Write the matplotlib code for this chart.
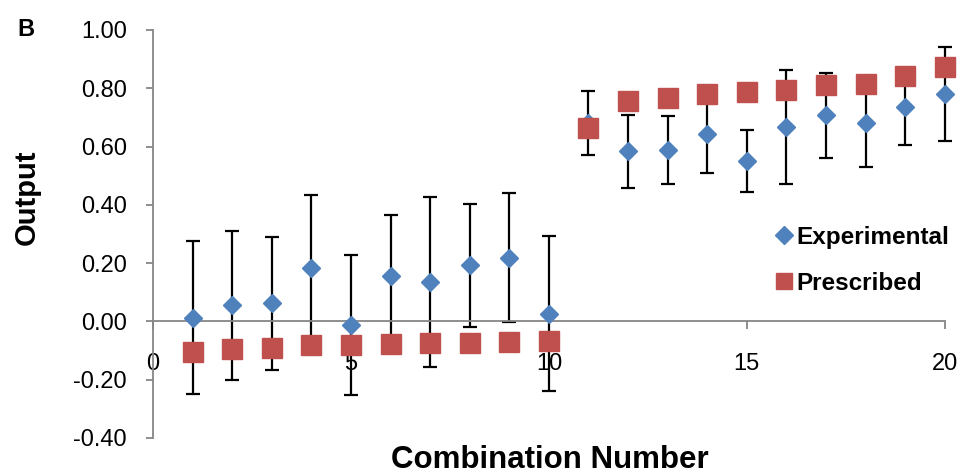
import matplotlib.pyplot as plt
from matplotlib.lines import Line2D
import numpy as np

plt.rcParams['font.family'] = ['Liberation Sans', 'DejaVu Sans']

combo = np.arange(1, 21)
experimental = [0.013, 0.055, 0.062, 0.184, -0.011, 0.155, 0.136, 0.192, 0.219, 0.027,
                0.680, 0.583, 0.589, 0.644, 0.549, 0.667, 0.707, 0.680, 0.734, 0.780]
exp_err = [0.262, 0.255, 0.228, 0.250, 0.240, 0.210, 0.292, 0.212, 0.220, 0.265,
           0.110, 0.125, 0.117, 0.136, 0.106, 0.195, 0.145, 0.150, 0.130, 0.162]
prescribed = [-0.104, -0.094, -0.090, -0.082, -0.080, -0.078, -0.073, -0.073, -0.070, -0.066,
              0.663, 0.756, 0.765, 0.780, 0.787, 0.793, 0.810, 0.815, 0.841, 0.874]

blue = '#4F81BD'
red = '#C0504D'
gray = '#868686'

fig = plt.figure(figsize=(9.63, 4.75), dpi=100)
ax = fig.add_axes([0.159, 0.078, 0.822, 0.859])

eb = ax.errorbar(combo, experimental, yerr=exp_err, fmt='none', ecolor='black',
                 elinewidth=1.6, capsize=5, capthick=1.6, zorder=2)
for art in eb.lines[1] + eb.lines[2]:
    art.set_clip_on(False)
ax.plot(combo, experimental, 'D', color=blue, ms=9.5, mec=blue, zorder=3, clip_on=False)
ax.plot(combo, prescribed, 's', color=red, ms=14.5, mec=red, zorder=4, clip_on=False)

ax.set_xlim(0, 20)
ax.set_ylim(-0.4, 1.0)
ax.set_xticks([0, 5, 10, 15, 20])
ax.set_yticks(np.arange(-0.4, 1.01, 0.2))
ax.set_yticklabels(['%.2f' % v for v in np.arange(-0.4, 1.01, 0.2)])

ax.spines['top'].set_visible(False)
ax.spines['right'].set_visible(False)
ax.spines['bottom'].set_position(('data', 0))
for s in ['left', 'bottom']:
    ax.spines[s].set_color(gray)
    ax.spines[s].set_linewidth(1.3)
ax.tick_params(axis='y', direction='out', length=5, width=1.3, color=gray,
               labelsize=17, pad=14)
ax.tick_params(axis='x', direction='out', length=5.5, width=1.3, color=gray,
               labelsize=17, pad=17)

fig.text(0.571, 0.032, 'Combination Number', ha='center', va='center',
         fontsize=22.5, fontweight='bold')
fig.text(0.028, 0.585, 'Output', ha='center', va='center', rotation=90,
         fontsize=21, fontweight='bold')
fig.text(0.027, 0.937, 'B', ha='center', va='center', fontsize=17, fontweight='bold')

handles = [Line2D([], [], ls='none', marker='D', ms=9, color=blue, mec=blue),
           Line2D([], [], ls='none', marker='s', ms=11, color=red, mec=red)]
ax.legend(handles, ['Experimental', 'Prescribed'], loc='center left',
          bbox_to_anchor=(0.779, 0.452), bbox_transform=fig.transFigure,
          frameon=False, prop={'weight': 'bold', 'size': 17.5},
          handletextpad=0.0, labelspacing=0.95, handlelength=1.0)

fig.savefig('out.png', dpi=100)
